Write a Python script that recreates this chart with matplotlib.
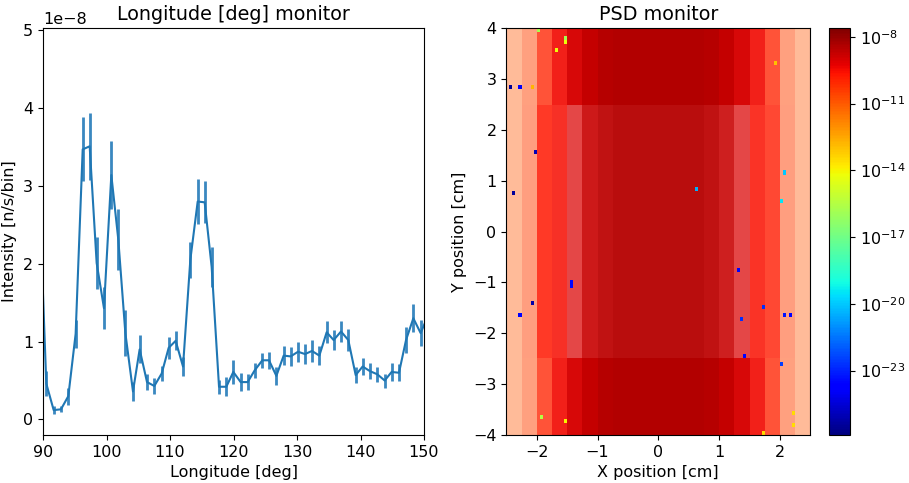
import numpy as np
import matplotlib
matplotlib.use("Agg")
import matplotlib.pyplot as plt
from matplotlib.colors import LogNorm
from matplotlib.cm import ScalarMappable

# ── Longitude monitor (intensity in 1e-8 n/s/bin) ───────────────────
lon_deg = [89.37, 90.52, 91.68, 92.83, 93.99, 95.14, 96.25, 97.35, 98.45, 99.60,
           100.76, 101.86, 102.97, 104.17, 105.22, 106.38, 107.53, 108.69, 109.79, 110.89,
           112.05, 113.20, 114.36, 115.46, 116.56, 117.72, 118.87, 119.97, 121.13, 122.23,
           123.33, 124.54, 125.59, 126.75, 127.90, 129.00, 130.16, 131.26, 132.36, 133.52,
           134.67, 135.77, 136.93, 138.08, 139.24, 140.34, 141.50, 142.65, 143.81, 144.90,
           146.06, 147.17, 148.32, 149.47, 150.62]
lon_int = [3.00, 0.46, 0.12, 0.13, 0.30, 1.10, 3.47, 3.51, 2.01, 1.43,
           3.14, 2.31, 1.11, 0.36, 0.90, 0.48, 0.43, 0.59, 0.92, 1.01,
           0.68, 2.05, 2.80, 2.79, 1.96, 0.42, 0.42, 0.61, 0.48, 0.48,
           0.63, 0.76, 0.76, 0.56, 0.82, 0.81, 0.87, 0.84, 0.88, 0.82,
           1.12, 1.02, 1.13, 1.02, 0.57, 0.68, 0.62, 0.58, 0.50, 0.61,
           0.60, 1.02, 1.30, 1.11, 1.33]
lon_err = [0.40, 0.16, 0.05, 0.04, 0.11, 0.18, 0.41, 0.43, 0.33, 0.27,
           0.44, 0.39, 0.30, 0.12, 0.18, 0.10, 0.10, 0.10, 0.14, 0.12,
           0.12, 0.23, 0.29, 0.27, 0.26, 0.09, 0.12, 0.15, 0.12, 0.10,
           0.10, 0.10, 0.11, 0.12, 0.12, 0.12, 0.13, 0.13, 0.14, 0.12,
           0.14, 0.13, 0.14, 0.14, 0.10, 0.11, 0.10, 0.10, 0.09, 0.11,
           0.11, 0.17, 0.18, 0.17, 0.18]

# ── PSD monitor: band levels (log10 n/s per pixel) and filled fraction ─
psd_x_edges = [-2.5, -2.25, -2.0, -1.75, -1.5, -1.25, -1.0, -0.75, -0.5, -0.25, 0.0,
               0.25, 0.5, 0.75, 1.0, 1.25, 1.5, 1.75, 2.0, 2.25, 2.5]
psd_y_edges = [-4.0, -2.5, 2.5, 4.0]
level_end = [-10.9, -10.6, -9.9, -9.4, -9.0, -8.7, -8.5, -8.45, -8.4, -8.4,
             -8.4, -8.4, -8.45, -8.5, -8.7, -9.0, -9.4, -9.9, -10.6, -10.9]
level_mid = [-10.9, -10.5, -9.7, -9.5, -9.1, -8.75, -8.6, -8.5, -8.5, -8.5,
             -8.5, -8.5, -8.5, -8.6, -8.8, -9.1, -9.6, -9.8, -10.5, -10.9]
fill_end = [0.4, 0.5, 0.78, 0.9, 0.97, 1.0, 1.0, 1.0, 1.0, 1.0,
            1.0, 1.0, 1.0, 1.0, 1.0, 0.97, 0.9, 0.78, 0.5, 0.4]
fill_mid = [0.4, 0.5, 0.85, 0.85, 0.72, 0.9, 0.93, 0.95, 0.95, 0.95,
            0.95, 0.95, 0.95, 0.93, 0.88, 0.72, 0.85, 0.8, 0.5, 0.4]

# isolated low-intensity pixels (x cm, y cm, log10 intensity)
spot_x = [-2.44, -2.27, -2.08, -2.37, -2.03, -1.40, -1.40, -2.09, -2.27, 0.61,
          2.07, 2.02, 1.33, 1.71, 1.38, 2.07, 2.18, 1.42, 2.02, -1.50,
          -1.50, -1.95, -1.65, 1.93, 2.22, 2.25, -1.50, -1.90, 1.75]
spot_y = [2.85, 2.85, 2.86, 0.77, 1.57, -0.98, -1.06, -1.40, -1.63, 0.84,
          1.16, 0.60, -0.74, -1.48, -1.72, -1.63, -1.63, -2.44, -2.59, 3.83,
          3.73, 3.95, 3.57, 3.34, -3.80, -3.58, -3.72, -3.62, -3.95]
spot_lvl = [-25.5, -23.9, -12.8, -25.4, -25.0, -23.5, -23.5, -25.2, -23.8, -20.4,
            -20.0, -19.5, -23.6, -22.8, -22.8, -23.3, -23.8, -23.6, -22.5, -15.8,
            -14.3, -15.8, -14.3, -13.0, -13.6, -13.5, -14.0, -15.5, -13.4]

plt.rcParams["font.size"] = 11.5

fig = plt.figure(figsize=(9.09, 4.83), dpi=100)

# ── left: longitude monitor ─────────────────────────────────────────
ax1 = fig.add_axes([43 / 909, 48 / 483, 381 / 909, 407 / 483])
ax1.errorbar(np.array(lon_deg), np.array(lon_int) * 1e-8, yerr=np.array(lon_err) * 1e-8,
             color="#1f77b4", lw=1.5, elinewidth=2, ecolor="#3a88c0")
ax1.set_xlim(90, 150)
ax1.set_ylim(-0.2e-8, 5.03e-8)
ax1.set_xlabel("Longitude [deg]")
ax1.set_ylabel("Intensity [n/s/bin]")
ax1.set_title("Longitude [deg] monitor", fontsize=13.8)

# ── right: PSD monitor ──────────────────────────────────────────────
ax2 = fig.add_axes([506.3 / 909, 48 / 483, 304 / 909, 407 / 483])
nx, ny = 100, 100
gx = np.linspace(-2.5, 2.5, nx + 1)
gy = np.linspace(-4.0, 4.0, ny + 1)
cx = 0.5 * (gx[:-1] + gx[1:])
cy = 0.5 * (gy[:-1] + gy[1:])
ix = np.clip(np.digitize(cx, psd_x_edges) - 1, 0, len(level_end) - 1)
iy = np.clip(np.digitize(cy, psd_y_edges) - 1, 0, 2)

lv_rows = [np.array(level_end), np.array(level_mid), np.array(level_end)]
fl_rows = [np.array(fill_end), np.array(fill_mid), np.array(fill_end)]
logI = np.array([lv_rows[r][ix] for r in iy])
alpha = np.array([fl_rows[r][ix] for r in iy])

for sx, sy, sl in zip(spot_x, spot_y, spot_lvl):
    i = min(int(np.searchsorted(gx, sx)) - 1, nx - 1)
    j = min(int(np.searchsorted(gy, sy)) - 1, ny - 1)
    logI[j, i] = sl
    alpha[j, i] = 1.0

norm = LogNorm(vmin=10 ** -25.9, vmax=10 ** -7.6)
ax2.pcolormesh(gx, gy, 10 ** logI, cmap="jet", norm=norm, alpha=alpha,
               shading="flat", edgecolors="none")
ax2.set_xlim(-2.5, 2.5)
ax2.set_ylim(-4, 4)
ax2.set_xlabel("X position [cm]")
ax2.set_ylabel("Y position [cm]")
ax2.set_title("PSD monitor", fontsize=13.8)

cax = fig.add_axes([829 / 909, 48 / 483, 21 / 909, 407 / 483])
sm = ScalarMappable(norm=norm, cmap="jet")
cb = fig.colorbar(sm, cax=cax)
cb.set_ticks([1e-23, 1e-20, 1e-17, 1e-14, 1e-11, 1e-8])
cb.minorticks_off()

fig.savefig("out.png", dpi=100)
